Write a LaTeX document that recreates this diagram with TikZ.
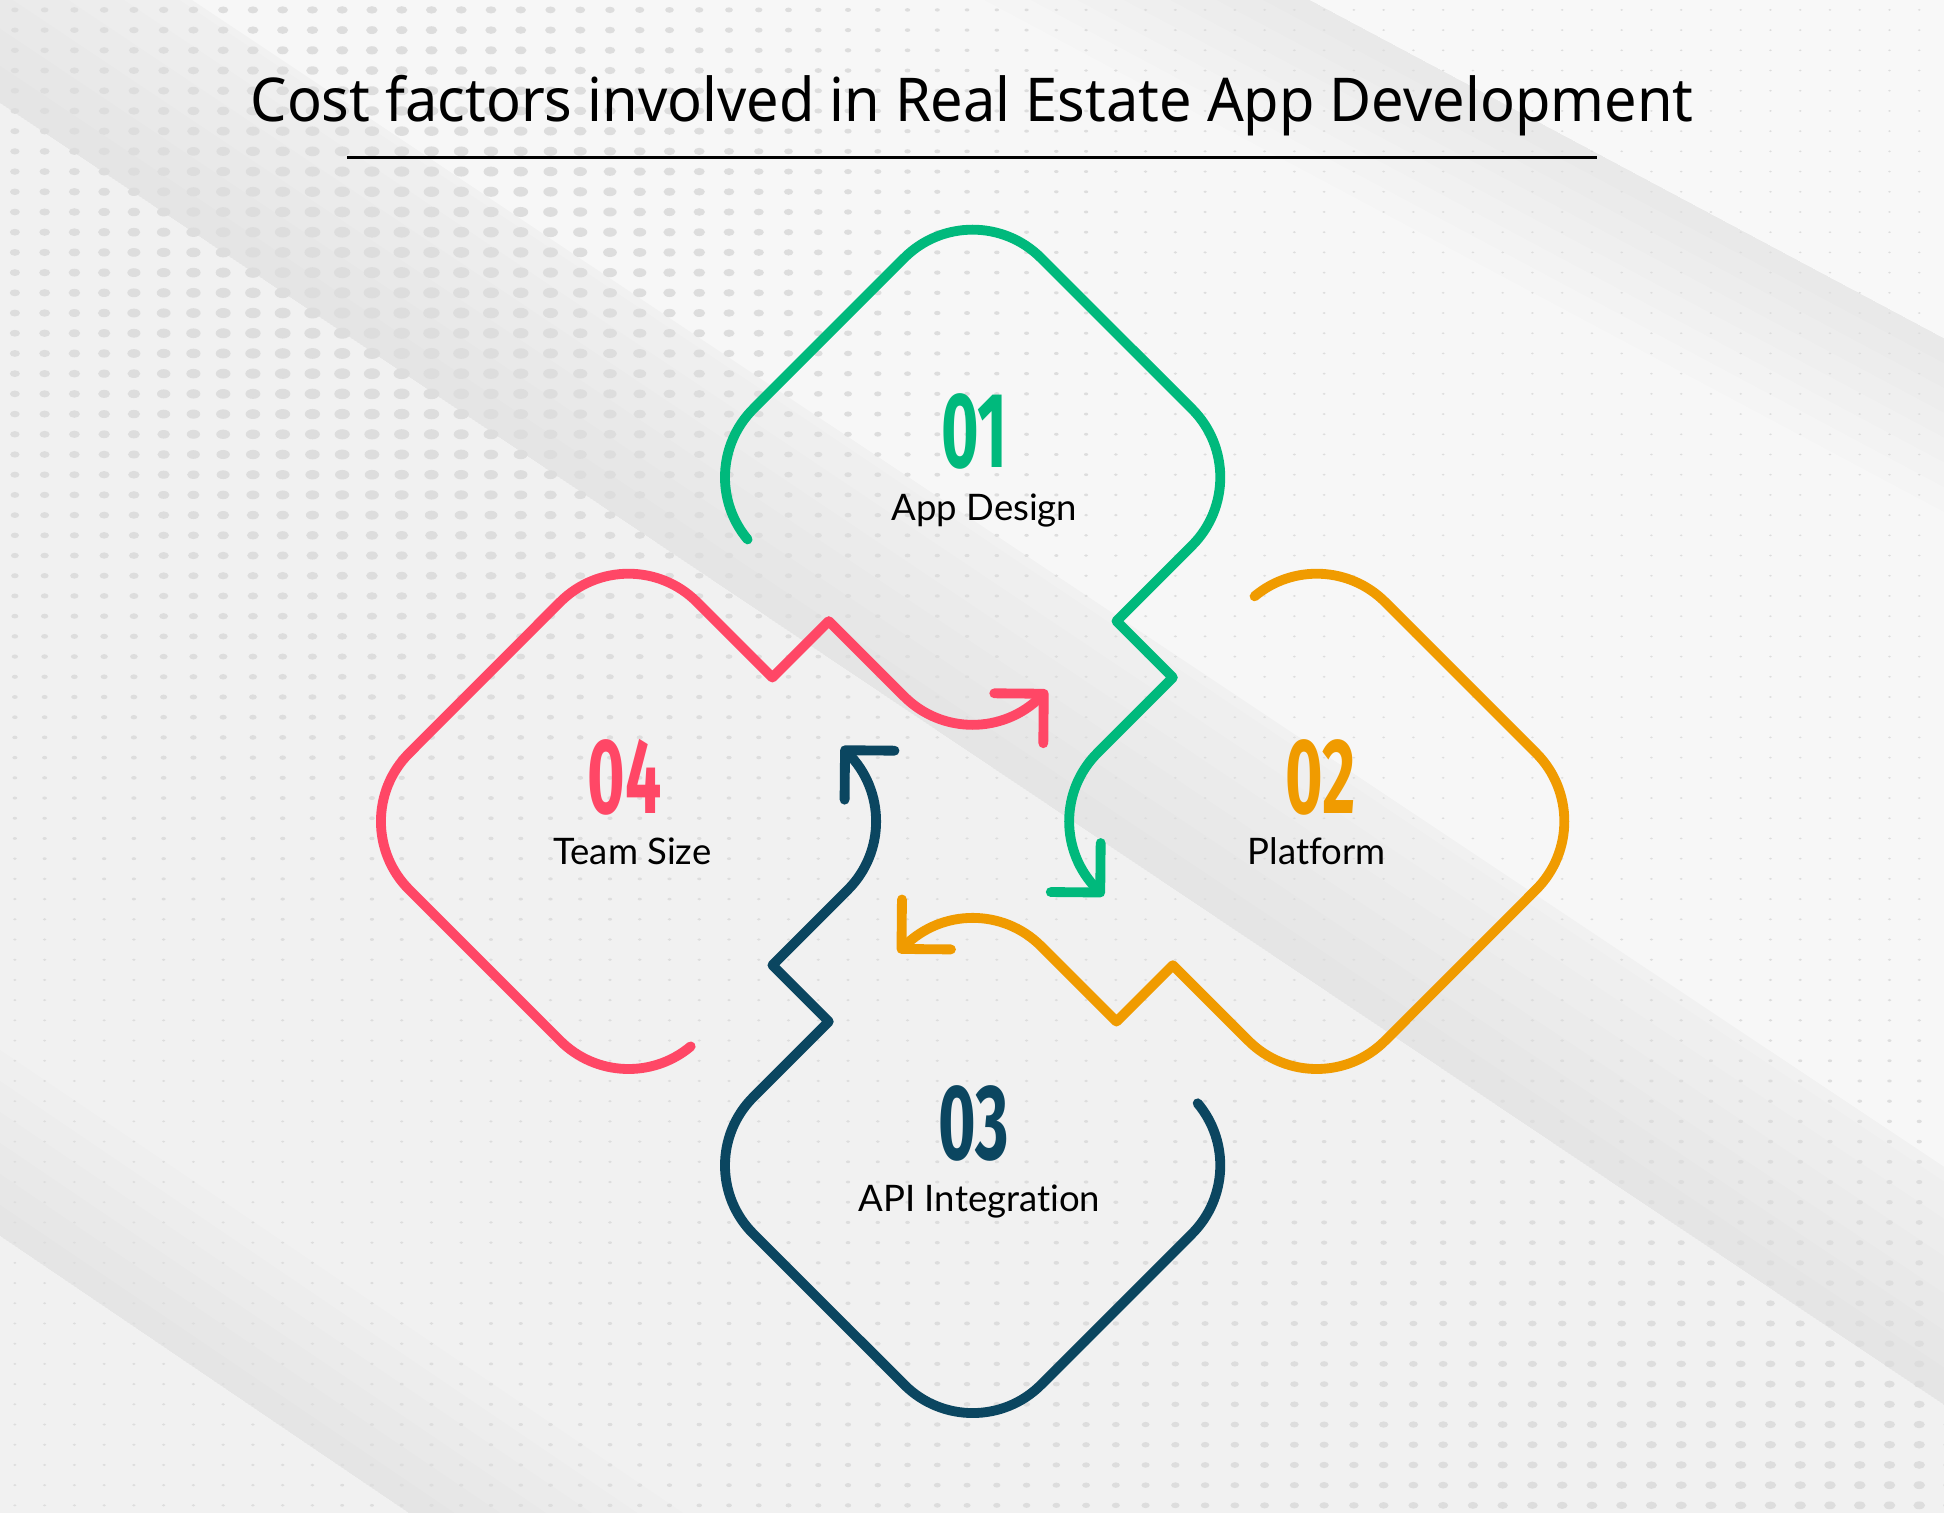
\documentclass[tikz,border=0pt]{standalone}
\usepackage{fontspec}
\usepackage{graphicx}
\setmainfont{Lato}[Ligatures=NoCommon]
\newfontfamily\titlefont{Noto Sans}
\newfontfamily\numfont{Fira Sans}
\usetikzlibrary{arrows.meta}

\definecolor{appgreen}{HTML}{00B97C}
\definecolor{platorange}{HTML}{F09B00}
\definecolor{apiblue}{HTML}{0B4660}
\definecolor{teamred}{HTML}{FF4766}
\definecolor{bgbase}{HTML}{F1F1F1}
\definecolor{dotgray}{HTML}{DDDDDD}

\tikzset{
    loopline/.style = {line width=2.8pt, line cap=round, line join=round},
    looptip/.style = {-{Straight Barb[round, length=0.35cm, width=0.7cm]}},
    numtext/.style = {anchor=base, inner sep=0pt, font=\numfont\bfseries\fontsize{30.5}{30}\selectfont},
    labeltext/.style = {anchor=base, inner sep=0pt, font=\fontsize{10.4}{12}\selectfont}
}

\newcommand{\costdigits}[1]{\scalebox{0.6}[1]{#1}}

\begin{document}
\begin{tikzpicture}[
        x = 0.0124cm,
        y = 0.0124cm
    ]
        \useasboundingbox (0,0) rectangle (1568,1220);
        % background bands
        \fill[bgbase] (0,0) rectangle (1568,1220);
        \fill[white, opacity=.45] (155,1220) -- (1056,1220) -- (1568,947) -- (1568,279) -- cycle;
        \fill[white, opacity=.55] (1056,1220) -- (1568,1220) -- (1568,947) -- cycle;
        \foreach \h in {20,40,...,140} {
            \fill[black, opacity=.007] (700,1410) -- (1568,947) -- (1568,947-\h) -- (700,1410-\h) -- cycle;
        }
        \foreach \h in {30,60,...,180} {
            \fill[black, opacity=.006] (0,1137) -- (1568,87) -- (1568,87+\h) -- (0,1137+\h) -- cycle;
        }
        \foreach \h in {25,50,...,150} {
            \fill[black, opacity=.007] (-100,291) -- (800,-319) -- (800,-319+\h) -- (-100,291+\h) -- cycle;
        }
        % dots
        \foreach \i in {0,...,65} {
            \foreach \j in {0,...,74} {
                \pgfmathsetmacro\dotx{12+24*\i}
                \pgfmathsetmacro\doty{8+16.3*\j}
                \pgfmathsetmacro\du{\dotx/1568-0.2}
                \pgfmathsetmacro\dv{\doty/1220-0.2}
                \pgfmathsetmacro\eu{1-\dotx/1568}
                \pgfmathsetmacro\ev{1-\doty/1220}
                \pgfmathsetmacro\dotr{1.1+5.6*exp(-min(\du*\du/0.06+\dv*\dv/0.074,9))+3.6*exp(-min(\ev*\ev/0.05+\eu*\eu/0.35,9))}
                \fill[dotgray] (\dotx,1220-\doty) ellipse [x radius=\dotr, y radius=0.67*\dotr];
            }
        }
        % title
        \node[anchor=base, inner sep=0pt, font=\titlefont\fontsize{17.2}{20}\selectfont] (title) at (784,1122) {\scalebox{0.955}[1]{Cost factors involved in Real Estate App Development}};
        \draw[line width=1.1pt] (280,1093) -- (1288,1093);
        % four loops
        \foreach \k/\loopcol in {0/appgreen, 1/platorange, 2/apiblue, 3/teamred} {
            \begin{scope}[shift={(784.5,557.5)}, rotate=-90*\k]
                \draw[loopline, looptip, draw=\loopcol]
                    (-181.5,227.4) arc[start angle=220, end angle=135, radius=78]
                    -- (-55.2,454.4) arc[start angle=135, end angle=45, radius=78]
                    -- (176.9,332.7) arc[start angle=45, end angle=-45, radius=78]
                    -- (116,161.5) -- (161.5,116)
                    -- (100.7,55.2) arc[start angle=135, end angle=225, radius=78]
                    -- (105.7,-60.2);
            \end{scope}
        }
        % numbers and labels
        \node[numtext, appgreen] (num01) at (786,843) {\costdigits{01}};
        \node[labeltext] (appdesign) at (794,800) {App Design};
        \node[numtext, platorange] (num02) at (1065,564) {\costdigits{02}};
        \node[labeltext] (platform) at (1062,523) {Platform};
        \node[numtext, apiblue] (num03) at (785,285) {\costdigits{03}};
        \node[labeltext] (apiint) at (790,243) {API Integration};
        \node[numtext, teamred] (num04) at (504,564) {\costdigits{04}};
        \node[labeltext] (teamsize) at (510,523) {Team Size};
    \end{tikzpicture}
\end{document}
